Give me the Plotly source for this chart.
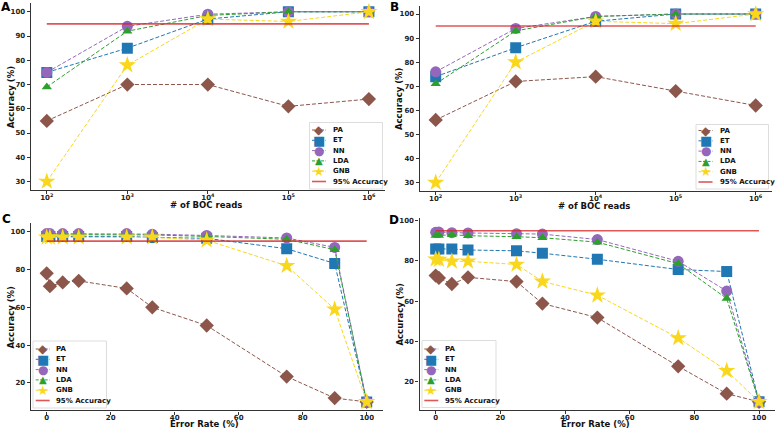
import plotly.graph_objects as go

# ---------------- data ----------------
reads = [1e2, 1e3, 1e4, 1e5, 1e6]
read_ticks = [1e2, 1e3, 1e4, 1e5, 1e6]
read_ticktext = ["10<sup>2</sup>", "10<sup>3</sup>", "10<sup>4</sup>", "10<sup>5</sup>", "10<sup>6</sup>"]

A_PA = [55, 70, 70, 61, 64]
A_ET = [75, 85, 97, 100, 100]
A_NN = [75, 94, 99, 100, 100]
A_LDA = [69, 92, 98.5, 100, 100]
A_GNB = [30, 78, 97, 96, 100]

B_PA = [56, 72, 74, 68, 62]
B_ET = [74, 86, 97, 100, 100]
B_NN = [76, 94, 99, 100, 100]
B_LDA = [71, 93, 99, 100, 100]
B_GNB = [30, 80, 97, 96, 100]

err = [0, 1, 5, 10, 25, 33, 50, 75, 90, 100]
C_PA = [78, 71.2, 73.2, 74, 70, 60, 50.4, 23.4, 12, 10]
C_ET = [97.5, 97.5, 97.5, 97.5, 97.5, 97, 96.5, 91, 83.2, 10]
C_NN = [99, 99, 99, 99, 99, 98.7, 98, 96.7, 91.7, 10]
C_LDA = [98.5, 98.5, 98.5, 98.5, 98.5, 98.3, 97.5, 96, 90.5, 10]
C_GNB = [97, 97, 97, 97, 97, 97, 95.5, 82, 59, 10]

D_PA = [72.7, 71.5, 68.5, 71.8, 69.7, 58.8, 51.8, 27.6, 14, 10]
D_ET = [85.9, 85.9, 85.9, 85.4, 85, 83.8, 80.8, 75.7, 74.7, 10]
D_NN = [94.2, 94.3, 94, 93.9, 93.5, 93.3, 90.6, 79.8, 65, 10]
D_LDA = [92.6, 92.6, 93, 92.5, 92, 91.5, 89.3, 78.6, 61.3, 10]
D_GNB = [80.8, 80.6, 79.8, 79.8, 78.2, 69.8, 62.9, 41.7, 25.4, 10]

threshold = 95
models = ["PA", "ET", "NN", "LDA", "GNB"]
line_label = "95% Accuracy"
panel_labels = ["A", "B", "C", "D"]
y_title = "Accuracy (%)"
x_titles = ["# of BOC reads", "# of BOC reads", "Error Rate (%)", "Error Rate (%)"]

# ---------------- style ----------------
W, H = 777, 429
FONT = "DejaVu Sans"
colors = {"PA": "#8c564b", "ET": "#1f77b4", "NN": "#9467bd", "LDA": "#2ca02c", "GNB": "#f9d71c"}
symbols = {"PA": "diamond", "ET": "square", "NN": "circle", "LDA": "triangle-up", "GNB": "star"}
msize = {"PA": 11, "ET": 11, "NN": 11, "LDA": 9, "GNB": 13}
glyph = {"PA": "\u25C6", "ET": "\u25A0", "NN": "\u25CF", "LDA": "\u25B2", "GNB": "\u2605"}
glyph_size = {"PA": 12, "ET": 13, "NN": 12, "LDA": 10, "GNB": 13}
RED = "rgba(214,39,40,0.78)"

def fx(p):
    return p / W

def fy(p):
    return 1 - p / H

# panel boxes in pixels: (left, right, top, bottom)
boxes = [
    (30.7, 385.0, 3.3, 190.0),
    (419.7, 771.7, 5.6, 191.0),
    (30.7, 382.7, 223.2, 410.4),
    (419.5, 775.2, 218.0, 410.0),
]
panels = [
    (reads, [A_PA, A_ET, A_NN, A_LDA, A_GNB]),
    (reads, [B_PA, B_ET, B_NN, B_LDA, B_GNB]),
    (err, [C_PA, C_ET, C_NN, C_LDA, C_GNB]),
    (err, [D_PA, D_ET, D_NN, D_LDA, D_GNB]),
]
yranges = [[26.5, 103.5], [26.5, 103.5], [5.5, 104.5], [5.9, 101.3]]
yticks = [list(range(30, 101, 10)), list(range(30, 101, 10)), [20, 40, 60, 80, 100], [20, 40, 60, 80, 100]]

fig = go.Figure()
layout = dict(
    width=W, height=H, margin=dict(l=0, r=0, t=0, b=0),
    paper_bgcolor="white", plot_bgcolor="white", showlegend=False,
    font=dict(family=FONT, color="#222"),
)
annotations = []
shapes = []

def ann(text, px, py, size, color="#111", xanchor="center", angle=0):
    return dict(text=text, x=fx(px), y=fy(py), xref="paper", yref="paper",
                xanchor=xanchor, yanchor="middle", textangle=angle, showarrow=False,
                font=dict(family=FONT, size=size, color=color))

for i, ((xs, series), box) in enumerate(zip(panels, boxes)):
    n = "" if i == 0 else str(i + 1)
    xa, ya = "x" + n, "y" + n
    l, r, t, b = box
    axis_common = dict(
        showline=True, linecolor="#333", linewidth=1.3, mirror=False,
        ticks="outside", ticklen=3, tickwidth=1, tickcolor="#333",
        showgrid=False, zeroline=False,
        tickfont=dict(family=FONT, size=7, color="#222", weight="bold"),
    )
    if i < 2:
        xaxis = dict(axis_common, type="log", range=[1.8, 6.2], tickvals=read_ticks,
                     ticktext=read_ticktext, domain=[fx(l), fx(r)], anchor=ya,
                     ticklabelstandoff=-3)
        x_line = [reads[0], reads[-1]]
    else:
        xaxis = dict(axis_common, range=[-5, 105], tickvals=[0, 20, 40, 60, 80, 100],
                     domain=[fx(l), fx(r)], anchor=ya, ticklabelstandoff=-3)
        x_line = [err[0], err[-1]]
    yaxis = dict(axis_common, range=yranges[i], tickvals=yticks[i],
                 domain=[fy(b), fy(t)], anchor=xa)
    layout["xaxis" + n] = xaxis
    layout["yaxis" + n] = yaxis

    for m, ys in zip(models, series):
        fig.add_trace(go.Scatter(
            x=xs, y=ys, mode="lines+markers", name=m, xaxis=xa, yaxis=ya,
            line=dict(color=colors[m], width=1, dash="4px,2px"),
            marker=dict(symbol=symbols[m], size=msize[m], color=colors[m], line=dict(width=0)),
        ))
    fig.add_trace(go.Scatter(
        x=x_line, y=[threshold, threshold], mode="lines", name=line_label,
        xaxis=xa, yaxis=ya, line=dict(color=RED, width=1.6),
    ))

    # axis titles
    annotations.append(ann("<b>%s</b>" % y_title, l - 20, (t + b) / 2, 8.5, angle=-90))
    annotations.append(ann("<b>%s</b>" % x_titles[i], (l + r) / 2 - 2, min(b + 15, 424.0), 8.5))

# panel letters
letter_pos = [(6, 7), (394, 7), (6, 219), (394, 220)]
for lab, (px, py) in zip(panel_labels, letter_pos):
    annotations.append(ann("<b>%s</b>" % lab, px, py, 12, color="#000"))

# legends: (box left, top, right, bottom, first row y, glyph center x, text x)
legends = [
    (309.5, 122.5, 382.5, 189.0, 130.0, 319.0, 330.5),
    (696.0, 124.5, 768.5, 189.0, 130.5, 705.5, 718.0),
    (33.0, 341.0, 106.5, 408.0, 349.0, 42.7, 54.3),
    (422.0, 340.5, 496.0, 407.5, 349.0, 431.3, 443.0),
]
row_h = 10.3
for (bl, bt, br, bb, y0, gx, tx) in legends:
    shapes.append(dict(type="rect", xref="paper", yref="paper", x0=fx(bl), x1=fx(br), y0=fy(bb), y1=fy(bt),
                       fillcolor="rgba(255,255,255,0.85)", line=dict(color="#dddddd", width=1), layer="above"))
    entries = models + [line_label]
    for k, name in enumerate(entries):
        yy = y0 + k * row_h
        if name in colors:
            shapes.append(dict(type="line", xref="paper", yref="paper", x0=fx(gx - 7), x1=fx(gx + 7),
                               y0=fy(yy), y1=fy(yy), line=dict(color=colors[name], width=1, dash="3px,1.5px"),
                               layer="above"))
            annotations.append(ann(glyph[name], gx, yy, glyph_size[name], color=colors[name]))
        else:
            shapes.append(dict(type="line", xref="paper", yref="paper", x0=fx(gx - 7), x1=fx(gx + 7),
                               y0=fy(yy), y1=fy(yy), line=dict(color=RED, width=1.6), layer="above"))
        annotations.append(ann("<b>%s</b>" % name, tx, yy, 7, xanchor="left"))

layout["annotations"] = annotations
layout["shapes"] = shapes
fig.update_layout(**layout)
fig.write_html("out.html", config={"displayModeBar": False},
               post_script="document.body.style.margin='0px';document.body.style.overflow='hidden';")
